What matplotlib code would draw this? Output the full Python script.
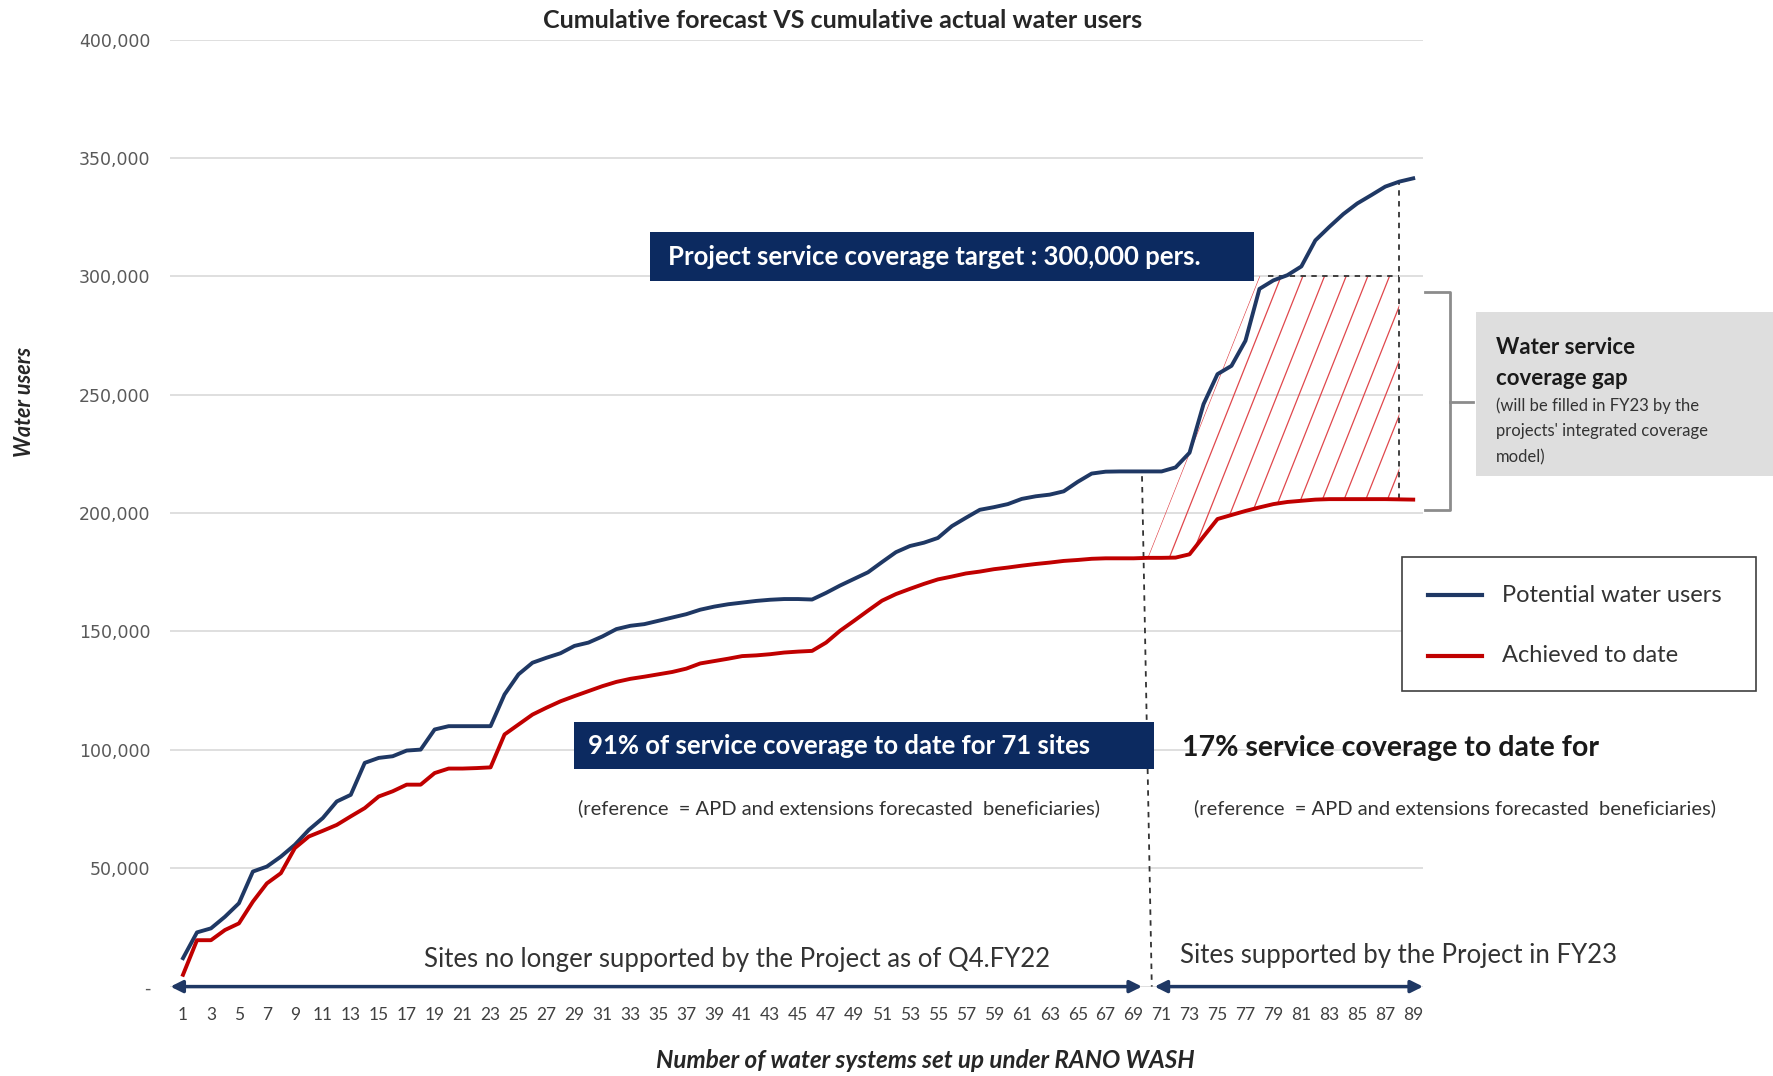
import matplotlib
matplotlib.use('Agg')
import matplotlib.pyplot as plt
from matplotlib.patches import Rectangle, Polygon
from matplotlib.lines import Line2D
from matplotlib.collections import LineCollection
from matplotlib.ticker import FuncFormatter
import numpy as np

plt.rcParams['font.family'] = ['Lato', 'DejaVu Sans']

# Data (site number -> cumulative users)
sites = list(range(1, 90))
potential_users = [
	12000, 22900, 24600, 29500, 35200, 48600, 50700, 54900, 59900, 66200,
	71200, 78200, 81000, 94500, 96600, 97300, 99700, 100100, 108600, 110000,
	110000, 110000, 110000, 123400, 131900, 136800, 138900, 140800, 143900, 145300,
	147900, 151000, 152400, 153100, 154500, 155900, 157300, 159200, 160500, 161500,
	162200, 162900, 163400, 163700, 163700, 163500, 166300, 169400, 172200, 175000,
	179300, 183500, 186100, 187500, 189500, 194500, 198000, 201400, 202500, 203800,
	206000, 207100, 207800, 209200, 213200, 216700, 217500, 217600, 217600, 217600,
	217600, 219300, 225500, 246000, 258700, 262200, 272800, 294700, 298300, 300500,
	304200, 315200, 320900, 326300, 330800, 334300, 337900, 340000, 341400]
achieved_users = [
	5000, 19600, 19600, 23900, 26700, 35900, 43600, 47900, 58500, 63400,
	65800, 68300, 71900, 75400, 80300, 82500, 85300, 85300, 90200, 92100,
	92100, 92300, 92600, 106500, 110700, 114900, 117800, 120500, 122700, 124800,
	126900, 128700, 130000, 130900, 131900, 132900, 134300, 136500, 137500, 138500,
	139600, 139900, 140400, 141100, 141500, 141800, 145300, 150300, 154500, 158800,
	163000, 165800, 168000, 170100, 172000, 173200, 174500, 175300, 176300, 177000,
	177800, 178500, 179100, 179800, 180200, 180700, 180900, 180900, 180900, 181100,
	181100, 181200, 182600, 190100, 197500, 199200, 200900, 202400, 203800, 204700,
	205200, 205700, 205900, 205900, 205900, 205900, 205900, 205800, 205700]
series_names = ['Potential water users', 'Achieved to date']
target_users = 300000
gap_start_site = 70
gap_top_site = 78
gap_end_site = 88
y_ticks = list(range(0, 400001, 50000))
x_ticks = list(range(1, 90, 2))

NAVY = '#1f3864'
BOX = '#0c2a60'
RED = '#c00000'
HATCH = '#e0474c'

W, H = 1774, 1076
fig = plt.figure(figsize=(W / 100, H / 100), dpi=100)

def fx(x):
	return x / W

def fy(y):
	return 1 - y / H

ax = fig.add_axes([fx(170), fy(986.6), (1423 - 170) / W, (986.6 - 39.6) / H])
ax.set_xlim(0.07, 89.7)
ax.set_ylim(0, 400000)
for s in ax.spines.values():
	s.set_visible(False)
ax.yaxis.grid(True, color='#d9d9d9', lw=1.2)
ax.set_axisbelow(True)
ax.set_yticks(y_ticks)
ax.yaxis.set_major_formatter(FuncFormatter(lambda v, _: '-' if v == 0 else '{:,}'.format(int(v))))
ax.set_xticks(x_ticks)
ax.tick_params(axis='y', length=0, pad=14, labelsize=12.5, labelcolor='#595959')
ax.tick_params(axis='x', length=0, pad=15, labelsize=12.5, labelcolor='#404040')
for lab in ax.get_yticklabels():
	lab.set_family('DejaVu Sans')

# hatched coverage gap
i0 = sites.index(gap_start_site)
i1 = sites.index(gap_end_site)
verts = [(sites[i], achieved_users[i]) for i in range(i0, i1 + 1)]
verts += [(gap_end_site, target_users), (gap_top_site, target_users)]
gap_poly = Polygon(verts, closed=True, facecolor='none', edgecolor='none')
ax.add_patch(gap_poly)
slope = (gap_top_site - gap_start_site) / (target_users - achieved_users[i0])
segs = []
for x0 in np.arange(gap_start_site, gap_end_site, 1.55):
	ylo, yhi = 150000, 320000
	segs.append([(x0 + (ylo - achieved_users[i0]) * slope, ylo),
				 (x0 + (yhi - achieved_users[i0]) * slope, yhi)])
lc = LineCollection(segs, colors=HATCH, linewidths=0.9, zorder=2)
ax.add_collection(lc)
lc.set_clip_path(gap_poly)

ax.plot(sites, potential_users, color=NAVY, lw=2.8, zorder=4, solid_joinstyle='round')
ax.plot(sites, achieved_users, color=RED, lw=2.8, zorder=4, solid_joinstyle='round')

# dashed guides
dash = dict(color='#333333', lw=1.3, ls=(0, (3, 3)), zorder=3)
ax.plot([gap_end_site, gap_end_site], [achieved_users[i1], potential_users[i1]], **dash)
ax.plot([gap_top_site + 0.6, gap_end_site], [target_users, target_users], **dash)
ax.plot([69.6, 70.3], [potential_users[sites.index(70)] - 2000, 0], clip_on=False, **dash)

# range arrows on the axis
arw = dict(arrowstyle='<|-|>', color=NAVY, lw=2.5, mutation_scale=18, shrinkA=0, shrinkB=0)
ax.annotate('', xy=(0.1, 0), xytext=(69.6, 0), arrowprops=arw, annotation_clip=False)
ax.annotate('', xy=(70.5, 0), xytext=(89.7, 0), arrowprops=arw, annotation_clip=False)

# texts
fig.text(fx(843), fy(20), 'Cumulative forecast VS cumulative actual water users', ha='center', va='center',
		 fontsize=18, fontweight='bold', color='#262626')
fig.text(fx(25), fy(402), 'Water users', rotation=90, ha='center', va='center', fontsize=15.5,
		 fontweight='bold', style='italic', color='#262626')
fig.text(fx(925), fy(1061), 'Number of water systems set up under RANO WASH', ha='center', va='center',
		 fontsize=17.5, fontweight='bold', style='italic', color='#262626')

fig.add_artist(Rectangle((fx(650), fy(281)), (1254 - 650) / W, (281 - 232) / H, transform=fig.transFigure,
						 facecolor=BOX, edgecolor='none', zorder=5))
fig.text(fx(668), fy(257), 'Project service coverage target : 300,000 pers.', ha='left', va='center',
		 fontsize=18.5, fontweight='bold', color='white', zorder=6)

fig.add_artist(Rectangle((fx(574), fy(769)), (1154 - 574) / W, (769 - 722) / H, transform=fig.transFigure,
						 facecolor=BOX, edgecolor='none', zorder=5))
fig.text(fx(588), fy(746), '91% of service coverage to date for 71 sites', ha='left', va='center',
		 fontsize=18.5, fontweight='bold', color='white', zorder=6)
fig.text(fx(1182), fy(748), '17% service coverage to date for', ha='left', va='center',
		 fontsize=20.5, fontweight='bold', color='#1a1a1a')

ref_txt = '(reference  = APD and extensions forecasted  beneficiaries)'
fig.text(fx(839), fy(808), ref_txt, ha='center', va='center', fontsize=14.5, color='#333333')
fig.text(fx(1455), fy(808), ref_txt, ha='center', va='center', fontsize=14.5, color='#333333')

fig.text(fx(737), fy(959), 'Sites no longer supported by the Project as of Q4.FY22', ha='center', va='center',
		 fontsize=18.5, color='#333333')
fig.text(fx(1399), fy(956), 'Sites supported by the Project in FY23', ha='center', va='center',
		 fontsize=18.5, color='#333333')

# brace and gap note
bx = [1425, 1450, 1450, 1425]
by = [292, 292, 510, 510]
fig.add_artist(Line2D([fx(v) for v in bx], [fy(v) for v in by], transform=fig.transFigure, color='#8c8c8c', lw=2))
fig.add_artist(Line2D([fx(1450), fx(1473)], [fy(402), fy(402)], transform=fig.transFigure, color='#8c8c8c', lw=2))
fig.add_artist(Rectangle((fx(1476), fy(476)), (1774 - 1476) / W, (476 - 312) / H, transform=fig.transFigure,
						 facecolor='#dedede', edgecolor='none', zorder=5))
fig.text(fx(1496), fy(347), 'Water service', ha='left', va='center', fontsize=16, fontweight='bold',
		 color='#1a1a1a', zorder=6)
fig.text(fx(1496), fy(379), 'coverage gap', ha='left', va='center', fontsize=16, fontweight='bold',
		 color='#1a1a1a', zorder=6)
for yy, line in zip([406, 431, 457], ['(will be filled in FY23 by the', "projects' integrated coverage", 'model)']):
	fig.text(fx(1496), fy(yy), line, ha='left', va='center', fontsize=12, color='#333333', zorder=6)

# legend
fig.add_artist(Rectangle((fx(1402), fy(691)), (1756 - 1402) / W, (691 - 557) / H, transform=fig.transFigure,
						 facecolor='white', edgecolor='#404040', lw=1.2, zorder=5))
for yy, col, name in zip([595, 656], [NAVY, RED], series_names):
	fig.add_artist(Line2D([fx(1428), fx(1482)], [fy(yy), fy(yy)], transform=fig.transFigure, color=col,
						  lw=3, zorder=6))
	fig.text(fx(1502), fy(yy), name, ha='left', va='center', fontsize=17, color='#333333', zorder=6)

fig.savefig('out.png', dpi=100)
